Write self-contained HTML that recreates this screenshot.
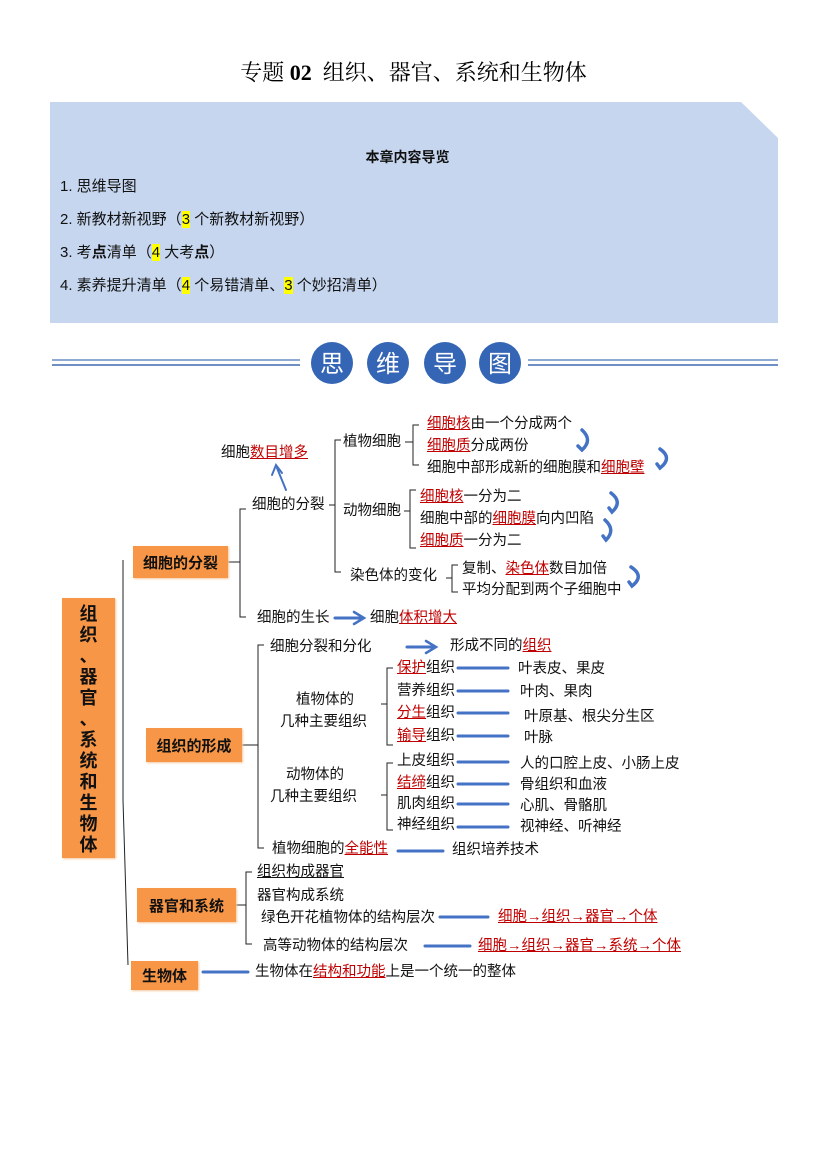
<!DOCTYPE html>
<html><head><meta charset="utf-8"><style>
body{margin:0;width:827px;height:1169px;background:#fff;position:relative;overflow:hidden;font-family:"Liberation Sans","Noto Sans CJK SC",sans-serif;}
.t{position:absolute;font-size:14.5px;line-height:18px;white-space:nowrap;color:#111;}
.r{color:#c00000;text-decoration:underline;text-decoration-color:#c00000;}
.box{position:absolute;background:#f79646;font-weight:bold;font-size:15px;color:#111;display:flex;align-items:center;justify-content:center;box-shadow:1px 1px 2px #f3c9a0;}
.hl{background:#ffff00;}
svg{position:absolute;left:0;top:0;}
</style></head><body>
<div style="position:absolute;left:0;width:827px;top:56px;text-align:center;font-family:'Liberation Serif','Noto Serif CJK SC',serif;font-size:22px;">专题 <b>02</b>&nbsp; 组织、器官、系统和生物体</div>
<svg width="827" height="1169">
<polygon points="50,102 741,102 778,138 778,323 50,323" fill="#c6d6ef"/>
<line x1="52" y1="360" x2="300" y2="360" stroke="#8faad2" stroke-width="2"/>
<line x1="52" y1="365" x2="300" y2="365" stroke="#6f8fc2" stroke-width="2"/>
<line x1="528" y1="360" x2="778" y2="360" stroke="#8faad2" stroke-width="2"/>
<line x1="528" y1="365" x2="778" y2="365" stroke="#6f8fc2" stroke-width="2"/>
<g fill="#3565b5"><ellipse cx="332" cy="363" rx="21" ry="21"/><ellipse cx="388" cy="363" rx="21" ry="21"/><ellipse cx="445" cy="363" rx="21" ry="21"/><ellipse cx="500" cy="363" rx="21" ry="21"/></g>
<g fill="#fff" font-size="24" text-anchor="middle" font-family="Noto Sans CJK SC,sans-serif"><text x="332" y="372">思</text><text x="388" y="372">维</text><text x="445" y="372">导</text><text x="500" y="372">图</text></g>
<g stroke="#222" stroke-width="1" fill="none">
<path d="M123,560 L123,800 L128,965"/>
<path d="M228,562 L240,562 M246,509 L240,509 L240,617 L246,617"/>
<path d="M329,505 L335,505 M341,440 L335,440 L335,572 L341,572"/>
<path d="M405,442 L413,442 M419,425 L413,425 L413,465 L419,465"/>
<path d="M404,511 L410,511 M416,490 L410,490 L410,548 L416,548"/>
<path d="M446,578 L452,578 M458,565 L452,565 L452,592 L458,592"/>
<path d="M242,745 L258,745 M264,645 L258,645 L258,848 L264,848"/>
<path d="M381,704 L387,704 M393,668 L387,668 L387,745 L393,745"/>
<path d="M381,795 L387,795 M393,763 L387,763 L387,830 L393,830"/>
<path d="M236,905 L246,905 M252,872 L246,872 L246,944 L252,944"/>
</g>
<g stroke="#4472c4" stroke-width="3" fill="none" stroke-linecap="round">
<path d="M286,490 L277,468" stroke-width="2"/><path d="M272,475 L276,465 L282,473" stroke-width="2"/>
<path d="M335,618 L360,618"/><path d="M354,612 L364,618 L354,624" stroke-width="2.5"/>
<path d="M407,647 L432,647"/><path d="M426,641 L436,647 L426,653" stroke-width="2.5"/>
<path d="M458,668 L508,668 M458,691 L508,691 M458,713 L508,713 M458,736 L508,736"/>
<path d="M458,762 L508,762 M458,784 L508,784 M458,804 L508,804 M458,827 L508,827"/>
<path d="M398,851 L443,851 M440,917 L488,917 M425,946 L470,946 M203,972 L248,972"/>
<g stroke-width="3.5">
<path d="M582,430 Q593,440 582,450 L578,446"/>
<path d="M660,449 Q673,458 660,468 L657,464"/>
<path d="M611,493 Q623,502 612,512 L609,508"/>
<path d="M605,520 Q616,530 606,540 L603,536"/>
<path d="M631,567 Q645,576 632,586 L629,582"/>
</g>
</g>
</svg>
<div class="t" style="left:0;width:815px;top:148px;text-align:center;font-weight:bold;font-size:14px;">本章内容导览</div>
<div class="t" style="left:60px;top:178px;font-size:15px;">1. 思维导图</div>
<div class="t" style="left:60px;top:211px;font-size:15px;">2. 新教材新视野（<span class="hl">3</span> 个新教材新视野）</div>
<div class="t" style="left:60px;top:244px;font-size:15px;">3. 考<b>点</b>清单（<span class="hl">4</span> 大考<b>点</b>）</div>
<div class="t" style="left:60px;top:277px;font-size:15px;">4. 素养提升清单（<span class="hl">4</span> 个易错清单、<span class="hl">3</span> 个妙招清单）</div>

<div class="box" style="left:62px;top:598px;width:53px;height:260px;font-size:18px;line-height:21px;text-align:center;align-items:flex-start;padding-top:6px;box-sizing:border-box;">组<br>织<br>、<br>器<br>官<br>、<br>系<br>统<br>和<br>生<br>物<br>体</div>
<div class="box" style="left:133px;top:546px;width:95px;height:32px;">细胞的分裂</div>
<div class="box" style="left:146px;top:728px;width:96px;height:34px;">组织的形成</div>
<div class="box" style="left:137px;top:888px;width:99px;height:34px;">器官和系统</div>
<div class="box" style="left:131px;top:961px;width:67px;height:29px;">生物体</div>

<div class="t" style="left:221px;top:444px;">细胞<span class="r">数目增多</span></div>
<div class="t" style="left:252px;top:496px;">细胞的分裂</div>
<div class="t" style="left:257px;top:609px;">细胞的生长</div>
<div class="t" style="left:370px;top:609px;">细胞<span class="r">体积增大</span></div>
<div class="t" style="left:343px;top:433px;">植物细胞</div>
<div class="t" style="left:343px;top:502px;">动物细胞</div>
<div class="t" style="left:350px;top:567px;">染色体的变化</div>
<div class="t" style="left:427px;top:415px;"><span class="r">细胞核</span>由一个分成两个</div>
<div class="t" style="left:427px;top:437px;"><span class="r">细胞质</span>分成两份</div>
<div class="t" style="left:427px;top:459px;">细胞中部形成新的细胞膜和<span class="r">细胞壁</span></div>
<div class="t" style="left:420px;top:488px;"><span class="r">细胞核</span>一分为二</div>
<div class="t" style="left:420px;top:510px;">细胞中部的<span class="r">细胞膜</span>向内凹陷</div>
<div class="t" style="left:420px;top:532px;"><span class="r">细胞质</span>一分为二</div>
<div class="t" style="left:462px;top:560px;">复制、<span class="r">染色体</span>数目加倍</div>
<div class="t" style="left:462px;top:581px;">平均分配到两个子细胞中</div>

<div class="t" style="left:270px;top:638px;">细胞分裂和分化</div>
<div class="t" style="left:450px;top:637px;">形成不同的<span class="r">组织</span></div>
<div class="t" style="left:296px;top:691px;">植物体的</div>
<div class="t" style="left:280px;top:713px;">几种主要组织</div>
<div class="t" style="left:397px;top:659px;"><span class="r">保护</span>组织</div>
<div class="t" style="left:397px;top:682px;">营养组织</div>
<div class="t" style="left:397px;top:704px;"><span class="r">分生</span>组织</div>
<div class="t" style="left:397px;top:727px;"><span class="r">输导</span>组织</div>
<div class="t" style="left:518px;top:660px;">叶表皮、果皮</div>
<div class="t" style="left:520px;top:683px;">叶肉、果肉</div>
<div class="t" style="left:524px;top:708px;">叶原基、根尖分生区</div>
<div class="t" style="left:524px;top:729px;">叶脉</div>
<div class="t" style="left:286px;top:766px;">动物体的</div>
<div class="t" style="left:270px;top:788px;">几种主要组织</div>
<div class="t" style="left:397px;top:752px;">上皮组织</div>
<div class="t" style="left:397px;top:774px;"><span class="r">结缔</span>组织</div>
<div class="t" style="left:397px;top:795px;">肌肉组织</div>
<div class="t" style="left:397px;top:816px;">神经组织</div>
<div class="t" style="left:520px;top:755px;">人的口腔上皮、小肠上皮</div>
<div class="t" style="left:520px;top:776px;">骨组织和血液</div>
<div class="t" style="left:520px;top:797px;">心肌、骨骼肌</div>
<div class="t" style="left:520px;top:818px;">视神经、听神经</div>
<div class="t" style="left:272px;top:840px;">植物细胞的<span class="r">全能性</span></div>
<div class="t" style="left:452px;top:841px;">组织培养技术</div>

<div class="t" style="left:257px;top:863px;"><span style="text-decoration:underline">组织构成器官</span></div>
<div class="t" style="left:257px;top:887px;">器官构成系统</div>
<div class="t" style="left:261px;top:909px;">绿色开花植物体的结构层次</div>
<div class="t" style="left:498px;top:908px;"><span class="r">细胞→组织→器官→个体</span></div>
<div class="t" style="left:263px;top:937px;">高等动物体的结构层次</div>
<div class="t" style="left:478px;top:937px;"><span class="r">细胞→组织→器官→系统→个体</span></div>
<div class="t" style="left:255px;top:963px;">生物体在<span class="r">结构和功能</span>上是一个统一的整体</div>
</body></html>
